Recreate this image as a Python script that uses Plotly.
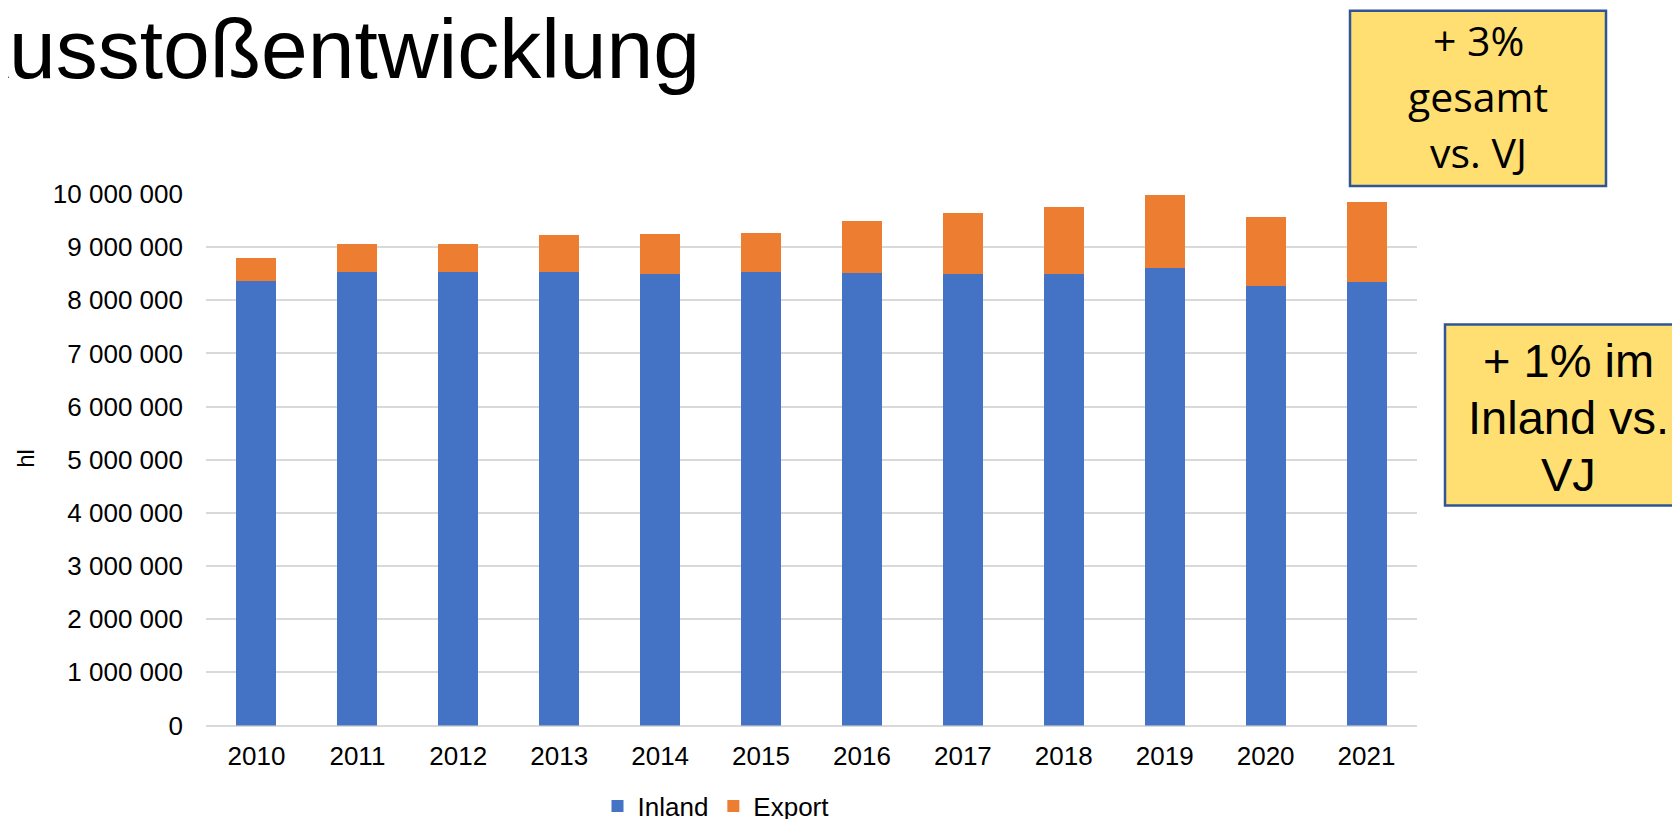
import plotly.graph_objects as go

# ── Daten (hl) ────────────────────────────────────────────────────────────────
years = ["2010", "2011", "2012", "2013", "2014", "2015",
         "2016", "2017", "2018", "2019", "2020", "2021"]
inland = [8_370_000, 8_530_000, 8_530_000, 8_530_000, 8_500_000, 8_530_000,
          8_520_000, 8_500_000, 8_490_000, 8_610_000, 8_260_000, 8_340_000]
export = [430_000, 520_000, 520_000, 690_000, 740_000, 730_000,
          970_000, 1_140_000, 1_260_000, 1_370_000, 1_300_000, 1_510_000]
y_ticks = [0, 1_000_000, 2_000_000, 3_000_000, 4_000_000, 5_000_000,
           6_000_000, 7_000_000, 8_000_000, 9_000_000, 10_000_000]

COLORS = {
    "blue":   "#4472C4",
    "orange": "#ED7D31",
    "grid":   "#D9D9D9",
    "text":   "#000000",
    "box":    "#FFDF71",
    "border": "#2F5597",
}

# Seite hat 8px Body-Rand -> Figur um 8px kleiner, Koordinaten in Bildschirm-Pixeln
OFF = 8
W, H = 1680 - OFF, 819 - OFF
L, R, T, B = 206, 1417, 194, 728   # Plotbereich (Bildschirm-Pixel)


def px_x(x):
    return (x - L) / (R - L)


def px_y(y):
    return (B - y) / (B - T)


fig = go.Figure()
fig.add_trace(go.Bar(x=years, y=inland, name="Inland",
                     marker=dict(color=COLORS["blue"], line_width=0)))
fig.add_trace(go.Bar(x=years, y=export, name="Export",
                     marker=dict(color=COLORS["orange"], line_width=0)))

fig.update_layout(
    width=W, height=H,
    barmode="stack", bargap=0.604,
    separators=", ",
    paper_bgcolor="white", plot_bgcolor="white",
    font=dict(family="Liberation Sans, Arial, sans-serif", color=COLORS["text"], size=26),
    margin=dict(l=L - OFF, r=W - (R - OFF), t=T - OFF, b=H - (B - OFF), pad=0),
    showlegend=True,
    legend=dict(orientation="h", xref="container", yref="container",
                x=(716 - OFF) / W, xanchor="center",
                y=1 - (806 - OFF) / H, yanchor="middle", font=dict(size=26),
                bgcolor="rgba(0,0,0,0)", traceorder="normal"),
)
fig.update_xaxes(showgrid=False, showline=False, ticks="", ticklabelstandoff=12,
                 tickfont=dict(size=26))
fig.update_yaxes(range=[0, 10_000_000], tickvals=y_ticks, tickformat=",d",
                 showgrid=True, gridcolor=COLORS["grid"], gridwidth=1.5,
                 zeroline=True, zerolinecolor=COLORS["grid"], zerolinewidth=1.5,
                 showline=False, ticks="", ticklabelstandoff=22,
                 tickfont=dict(size=26))

# Titel (links angeschnitten)
fig.add_annotation(text="Ausstoßentwicklung", xref="paper", yref="paper",
                   x=px_x(702), y=px_y(48), xanchor="right", yanchor="middle",
                   showarrow=False,
                   font=dict(family="Liberation Sans, Arial", size=84, color="black"))

# Achsentitel
fig.add_annotation(text="hl", xref="paper", yref="paper",
                   x=px_x(26), y=px_y(460), textangle=-90, showarrow=False,
                   xanchor="center", yanchor="middle", font=dict(size=24))

# Gelbe Boxen
fig.add_shape(type="rect", xref="paper", yref="paper",
              x0=px_x(1350), x1=px_x(1606), y0=px_y(186), y1=px_y(10),
              fillcolor=COLORS["box"], line=dict(color=COLORS["border"], width=2.5))
fig.add_shape(type="rect", xref="paper", yref="paper",
              x0=px_x(1445), x1=px_x(1700), y0=px_y(507), y1=px_y(325),
              fillcolor=COLORS["box"], line=dict(color=COLORS["border"], width=2.5))

box1_lines = ["+ 3%", "gesamt", "vs. VJ"]
box1_base = [57, 114, 170]
for txt, base in zip(box1_lines, box1_base):
    fig.add_annotation(text=txt, xref="paper", yref="paper",
                       x=px_x(1478), y=px_y(base - 18), xanchor="center", yanchor="middle",
                       showarrow=False,
                       font=dict(family="Open Sans, sans-serif", size=41, color="black"))

box2_lines = ["+ 1% im", "Inland vs.", "VJ"]
box2_base = [377, 435, 492]
for txt, base in zip(box2_lines, box2_base):
    fig.add_annotation(text=txt, xref="paper", yref="paper",
                       x=px_x(1568), y=px_y(base - 16), xanchor="center", yanchor="middle",
                       showarrow=False,
                       font=dict(family="Liberation Sans, Arial", size=47, color="black"))

fig.write_html("out.html")
